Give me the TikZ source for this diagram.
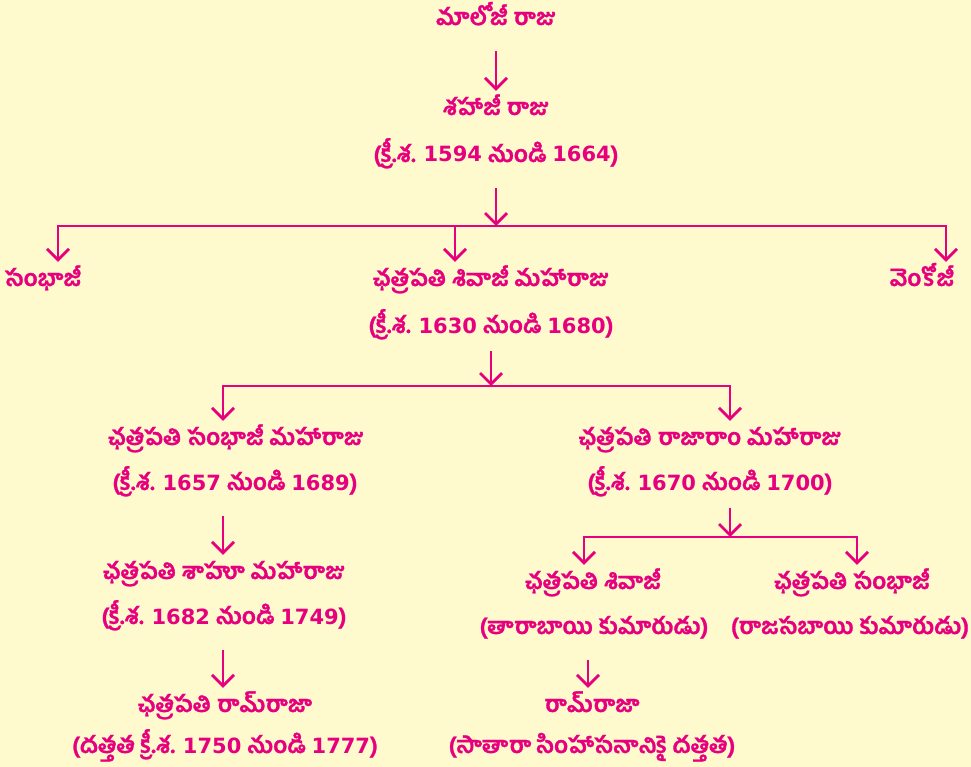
\documentclass[tikz,border=0pt]{standalone}
\usepackage{fontspec}
\newfontfamily\telfont[Script=Telugu, BoldFeatures={FakeBold=1.2}]{Hind Guntur}
\newfontfamily\numfont{DejaVu Sans}
\newcommand{\yearnum}[1]{{\numfont\bfseries\fontsize{21}{24}\selectfont #1}}
\usetikzlibrary{arrows.meta}
\definecolor{famline}{RGB}{230,0,126}
\definecolor{pagebg}{RGB}{255,250,205}
\tikzset{
  member/.style={font=\telfont\bfseries\fontsize{23}{28}\selectfont, text=famline,
    inner sep=0pt, anchor=base, text height=24pt, text depth=26pt},
  lastrow/.style={member, text height=18pt, text depth=7pt},
  descent/.style={draw=famline, line width=2.8pt, -{Straight Barb[length=11pt,width=22pt]}},
  branch/.style={draw=famline, line width=2.8pt}
}
\begin{document}
\begin{tikzpicture}[x=1pt,y=-1pt]
    \fill[pagebg] (0,0) rectangle (971,767);
    \useasboundingbox (0,0) rectangle (971,767);

    \node[member] (maloji) at (496,25) {మాలోజీ రాజు};
    \node[member] (shahaji) at (496,115) {శహాజీ రాజు};
    \node[member] (shahajiyr) at (496,162) {(క్రీ.శ. \yearnum{1594} నుండి \yearnum{1664})};
    \draw[descent] (maloji.south) -- (shahaji.north);

    \node[member] (sambhaji) at (43,286) {సంభాజీ};
    \node[member] (shivaji) at (491,286) {ఛత్రపతి శివాజీ మహారాజు};
    \node[member, text depth=18pt] (shivajiyr) at (491,333) {(క్రీ.శ. \yearnum{1630} నుండి \yearnum{1680})};
    \node[member] (venkoji) at (922,286) {వెంకోజీ};
    \coordinate (j1) at (496,226);
    \coordinate (j1l) at (58,226);
    \coordinate (j1m) at (455,226);
    \coordinate (j1r) at (946,226);
    \draw[descent] (shahajiyr.south) -- (j1);
    \draw[descent] (j1) -| (j1l |- sambhaji.north);
    \draw[descent] (j1) -| (j1r |- venkoji.north);
    \draw[descent] (j1m) -- (j1m |- shivaji.north);

    \node[member] (sambhajimr) at (236,445) {ఛత్రపతి సంభాజీ మహారాజు};
    \node[member] (sambhajiyr) at (235,490) {(క్రీ.శ. \yearnum{1657} నుండి \yearnum{1689})};
    \node[member] (rajaram) at (710,445) {ఛత్రపతి రాజారాం మహారాజు};
    \node[member, text depth=18pt] (rajaramyr) at (710,490) {(క్రీ.శ. \yearnum{1670} నుండి \yearnum{1700})};
    \coordinate (j2) at (491,386);
    \coordinate (j2l) at (223,386);
    \coordinate (j2r) at (730,386);
    \draw[descent] (shivajiyr.south) -- (j2);
    \draw[descent] (j2) -| (j2l |- sambhajimr.north);
    \draw[descent] (j2) -| (j2r |- rajaram.north);

    \node[member] (shahu) at (224,579) {ఛత్రపతి శాహూ మహారాజు};
    \node[member] (shahuyr) at (224,624) {(క్రీ.శ. \yearnum{1682} నుండి \yearnum{1749})};
    \node[member] (ramraja) at (225,712) {ఛత్రపతి రామ్‌రాజా};
    \node[lastrow] (ramrajayr) at (225,753) {(దత్తత క్రీ.శ. \yearnum{1750} నుండి \yearnum{1777})};
    \draw[descent] (sambhajiyr.south -| 223,0) -- (223,0 |- shahu.north);
    \draw[descent] (shahuyr.south -| 223,0) -- (223,0 |- ramraja.north);

    \node[member] (shivajitwo) at (593,589) {ఛత్రపతి శివాజీ};
    \node[member] (shivajitwoyr) at (594,634) {(తారాబాయి కుమారుడు)};
    \node[member] (sambhajitwo) at (852,589) {ఛత్రపతి సంభాజీ};
    \node[member] (sambhajitwoyr) at (850,634) {(రాజసబాయి కుమారుడు)};
    \coordinate (j3) at (730,537);
    \coordinate (j3l) at (584,537);
    \coordinate (j3r) at (857,537);
    \draw[descent] (rajaramyr.south -| j3) -- (j3);
    \draw[descent] (j3) -| (j3l |- shivajitwo.north);
    \draw[descent] (j3) -| (j3r |- sambhajitwo.north);

    \node[member] (ramrajatwo) at (592,712) {రామ్‌రాజా};
    \node[lastrow] (ramrajatwoyr) at (592,753) {(సాతారా సింహాసనానికై దత్తత)};
    \draw[descent] (shivajitwoyr.south -| 588,0) -- (588,0 |- ramrajatwo.north);
\end{tikzpicture}
\end{document}
